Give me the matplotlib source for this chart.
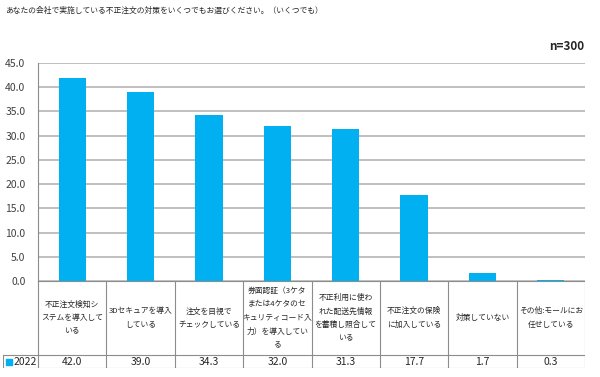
import matplotlib
matplotlib.use("Agg")
import matplotlib.pyplot as plt
import numpy as np

plt.rcParams['font.family'] = ['Noto Sans CJK JP', 'DejaVu Sans']

title = "あなたの会社で実施している不正注文の対策をいくつでもお選びください。（いくつでも）"
note = "n=300"
series_name = "2022"
categories = [
    "不正注文検知シ\nステムを導入して\nいる",
    "3Dセキュアを導入\nしている",
    "注文を目視で\nチェックしている",
    "券面認証（3ケタ\nまたは4ケタのセ\nキュリティコード入\n力）を導入してい\nる",
    "不正利用に使わ\nれた配送先情報\nを蓄積し照合して\nいる",
    "不正注文の保険\nに加入している",
    "対策していない",
    "その他:モールにお\n任せしている",
]
values = [42.0, 39.0, 34.3, 32.0, 31.3, 17.7, 1.7, 0.3]
yticks = np.arange(0, 46, 5)

W, H = 600, 377
fig = plt.figure(figsize=(W / 100, H / 100), dpi=100)

def px(l, t, r, b):
    return [l / W, 1 - b / H, (r - l) / W, (b - t) / H]

bar_color = "#00B0F0"
grid_color = "#B4B4B4"
border = "#8C8C8C"

# plot area
ax = fig.add_axes(px(38, 63, 585, 281))
x = np.arange(len(values))
ax.bar(x, values, width=0.4, color=bar_color, zorder=3)
ax.set_xlim(-0.5, len(values) - 0.5)
ax.set_ylim(0, 45)
ax.set_yticks(yticks)
ax.set_yticklabels([f"{v:.1f}" for v in yticks], fontsize=7.5, color="#404040")
ax.set_xticks([])
ax.yaxis.grid(True, color=grid_color, linewidth=1.2, zorder=0)
ax.tick_params(axis="y", length=0, pad=9)
for s in ["top", "right", "bottom"]:
    ax.spines[s].set_visible(False)
ax.spines["left"].set_color(border)
ax.spines["left"].set_linewidth(0.8)

# data table
n = len(values)
ext = 35 / (547 / n)
tb = fig.add_axes(px(3, 281, 585, 368))
tb.set_xlim(-0.5 - ext, n - 0.5)
tb.set_ylim(87, 0)
tb.axis("off")
lw = 0.8
for i in range(n + 1):
    tb.plot([i - 0.5, i - 0.5], [0, 87], color=border, lw=lw)
tb.plot([-0.5, n - 0.5], [0, 0], color=border, lw=lw)
tb.plot([-0.5 - ext, n - 0.5], [74, 74], color=border, lw=lw)
tb.plot([-0.5 - ext, n - 0.5], [87, 87], color=border, lw=lw)
tb.plot([-0.5 - ext, -0.5 - ext], [74, 87], color=border, lw=lw)
for i, (c, v) in enumerate(zip(categories, values)):
    tb.text(i, 37, c, ha="center", va="center", fontsize=5.6,
            linespacing=1.9, color="#262626")
    tb.text(i, 81, f"{v:.1f}", ha="center", va="center", fontsize=7.5,
            color="#262626")
tb.scatter([-0.5 - ext + 0.09], [81], marker="s", s=14, color=bar_color)
tb.text(-0.5 - ext + 0.15, 81, series_name, ha="left", va="center",
        fontsize=7.5, color="#262626")

fig.text(5 / W, 1 - 11 / H, title, ha="left", va="center", fontsize=5.6,
         color="#262626")
fig.text(584 / W, 1 - 46 / H, note, ha="right", va="center", fontsize=8.5,
         fontweight="bold", color="#262626")

fig.savefig("out.png", dpi=100)
